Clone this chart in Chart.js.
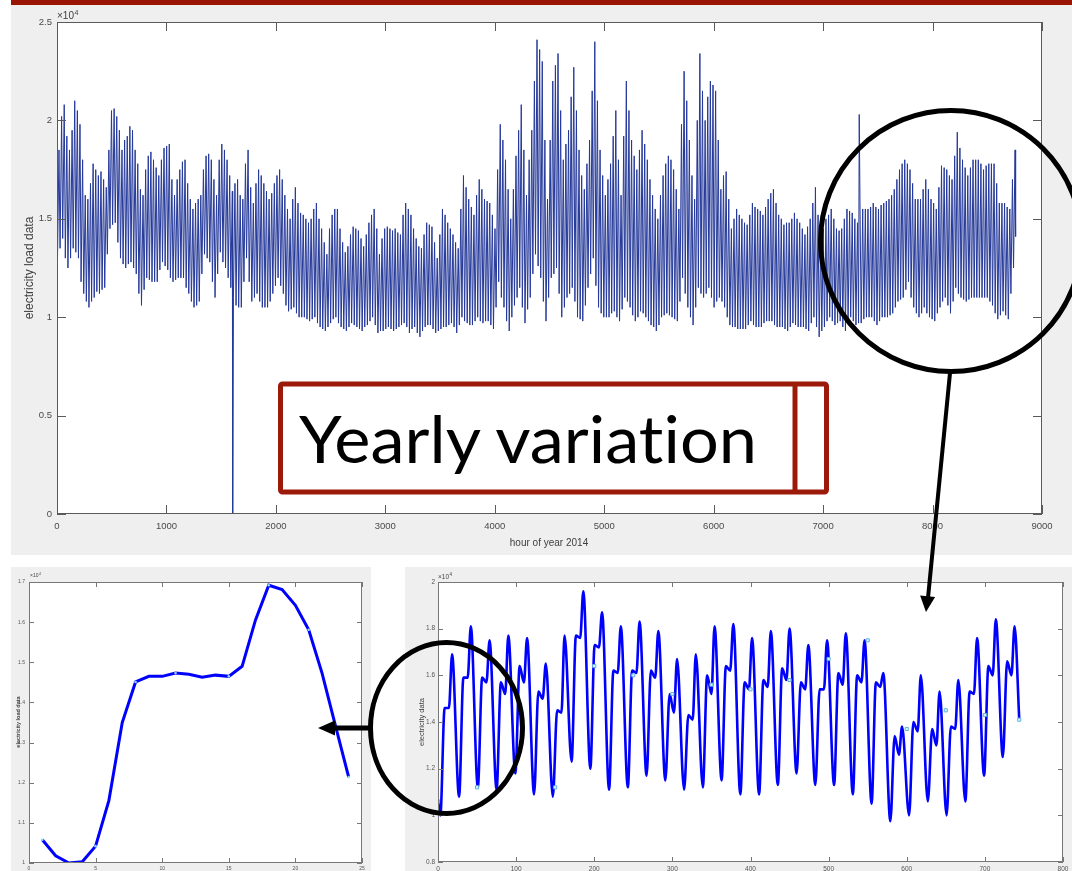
<!DOCTYPE html>
<html>
<head>
<meta charset="utf-8">
<script src="https://cdn.jsdelivr.net/npm/chart.js@4.4.1/dist/chart.umd.min.js"></script>
<style>
  html, body { margin: 0; padding: 0; background: #fff; }
  body { width: 1072px; height: 871px; position: relative; overflow: hidden; }
  .topbar { position: absolute; left: 11px; top: 0; width: 1061px; height: 5px; background: #991500; }
  .panel { position: absolute; background: #efefef; }
  .panel canvas { display: block; }
  #overlay { position: absolute; left: 0; top: 0; pointer-events: none; }
  #overlay text { font-variant-ligatures: none; font-feature-settings: "liga" 0; }
</style>
</head>
<body>
<div class="topbar"></div>
<div class="panel" style="left:11px; top:5px; width:1061px; height:550px;"><canvas id="yearChart" width="1061" height="550"></canvas></div>
<div class="panel" style="left:11px; top:567px; width:360px; height:304px;"><canvas id="dayChart" width="360" height="304"></canvas></div>
<div class="panel" style="left:405px; top:567px; width:667px; height:304px;"><canvas id="monthChart" width="667" height="304"></canvas></div>

<svg id="overlay" width="1072" height="871" viewBox="0 0 1072 871">
  <rect x="280.5" y="384" width="546" height="108" rx="2" fill="none" stroke="#9c1a0a" stroke-width="5"/>
  <line x1="795" y1="384" x2="795" y2="492" stroke="#9c1a0a" stroke-width="5"/>
  <text x="299" y="463" font-family="Lato, 'Open Sans', sans-serif" font-size="66" fill="#000"
        textLength="458" lengthAdjust="spacingAndGlyphs">Yearly variation</text>
  <circle cx="951" cy="241" r="130.5" fill="none" stroke="#000" stroke-width="5"/>
  <line x1="950" y1="373" x2="928" y2="598" stroke="#000" stroke-width="4"/>
  <polygon points="926,612 935.1,596.9 920.1,595.4" fill="#000"/>
  <ellipse cx="446.5" cy="728" rx="76" ry="85.5" fill="none" stroke="#000" stroke-width="5"/>
  <line x1="371" y1="728" x2="332" y2="728" stroke="#000" stroke-width="5"/>
  <polygon points="318,728 335,720.5 335,735.5" fill="#000"/>
</svg>

<script>
// 2014 load, units of 10^4: daily evening high and night low, one value per day
const yearDailyHigh = [
  1.85, 2.02, 2.08, 1.92, 1.85, 1.95, 2.10, 2.05, 1.98, 1.80, 1.62, 1.60, 1.68, 1.78, 1.75, 1.72, 1.74, 1.70, 1.66, 1.85,
  2.05, 2.06, 2.02, 1.95, 1.85, 1.90, 1.92, 1.97, 1.95, 1.85, 1.78, 1.65, 1.62, 1.75, 1.82, 1.84, 1.80, 1.76, 1.72, 1.80,
  1.86, 1.87, 1.88, 1.70, 1.62, 1.70, 1.75, 1.79, 1.80, 1.68, 1.60, 1.55, 1.58, 1.60, 1.62, 1.75, 1.82, 1.83, 1.80, 1.70,
  1.62, 1.80, 1.88, 1.85, 1.80, 1.72, 1.64, 1.68, 1.70, 1.62, 1.60, 1.78, 1.85, 1.66, 1.58, 1.68, 1.75, 1.72, 1.68, 1.64,
  1.60, 1.63, 1.68, 1.72, 1.75, 1.70, 1.62, 1.55, 1.50, 1.60, 1.66, 1.58, 1.53, 1.52, 1.50, 1.48, 1.50, 1.55, 1.58, 1.50,
  1.45, 1.38, 1.32, 1.45, 1.52, 1.55, 1.55, 1.45, 1.38, 1.33, 1.36, 1.42, 1.46, 1.45, 1.44, 1.40, 1.36, 1.42, 1.48, 1.52,
  1.55, 1.45, 1.32, 1.40, 1.45, 1.46, 1.45, 1.44, 1.45, 1.43, 1.42, 1.52, 1.58, 1.55, 1.52, 1.45, 1.40, 1.36, 1.35, 1.42,
  1.48, 1.47, 1.46, 1.38, 1.30, 1.42, 1.55, 1.52, 1.48, 1.45, 1.42, 1.38, 1.35, 1.55, 1.72, 1.66, 1.60, 1.56, 1.52, 1.62,
  1.70, 1.65, 1.60, 1.59, 1.58, 1.52, 1.45, 1.75, 1.98, 1.90, 1.80, 1.65, 1.50, 1.65, 1.82, 1.95, 2.08, 1.85, 1.62, 1.80,
  1.95, 2.20, 2.41, 2.36, 2.30, 1.90, 1.60, 1.90, 2.20, 2.28, 2.34, 2.05, 1.80, 1.88, 1.95, 2.12, 2.27, 2.05, 1.85, 1.72,
  1.65, 1.78, 1.90, 2.15, 2.40, 2.10, 1.85, 1.72, 1.62, 1.70, 1.78, 1.92, 2.05, 1.80, 1.62, 1.92, 2.20, 2.05, 1.90, 1.82,
  1.75, 1.85, 1.95, 1.88, 1.80, 1.70, 1.62, 1.55, 1.50, 1.62, 1.72, 1.78, 1.82, 1.80, 1.75, 1.65, 1.55, 1.98, 2.25, 2.10,
  1.90, 1.72, 1.60, 2.00, 2.34, 2.15, 2.00, 2.12, 2.20, 2.18, 2.15, 1.90, 1.65, 1.72, 1.74, 1.60, 1.45, 1.50, 1.55, 1.52,
  1.50, 1.48, 1.47, 1.52, 1.58, 1.56, 1.55, 1.54, 1.52, 1.56, 1.60, 1.63, 1.65, 1.58, 1.52, 1.50, 1.47, 1.48, 1.48, 1.50,
  1.53, 1.50, 1.48, 1.45, 1.42, 1.46, 1.50, 1.58, 1.66, 1.52, 1.40, 1.45, 1.50, 1.52, 1.55, 1.50, 1.45, 1.44, 1.45, 1.50,
  1.55, 1.54, 1.53, 1.50, 1.48, 1.52, 1.55, 1.55, 1.55, 1.56, 1.58, 1.56, 1.55, 1.57, 1.58, 1.59, 1.60, 1.62, 1.65, 1.70,
  1.75, 1.78, 1.80, 1.78, 1.75, 1.68, 1.60, 1.60, 1.60, 1.65, 1.70, 1.65, 1.60, 1.58, 1.55, 1.66, 1.77, 1.76, 1.75, 1.72,
  1.70, 1.82, 1.94, 1.86, 1.80, 1.76, 1.72, 1.76, 1.80, 1.80, 1.80, 1.78, 1.75, 1.77, 1.78, 1.78, 1.78, 1.68, 1.58, 1.58,
  1.58, 1.56, 1.55, 1.70, 1.85
];
const yearDailyLow = [
  1.27, 1.35, 1.40, 1.30, 1.25, 1.30, 1.35, 1.33, 1.30, 1.18, 1.12, 1.08, 1.05, 1.08, 1.10, 1.13, 1.12, 1.14, 1.15, 1.32,
  1.45, 1.47, 1.48, 1.38, 1.30, 1.27, 1.25, 1.27, 1.28, 1.25, 1.22, 1.12, 1.06, 1.14, 1.20, 1.19, 1.18, 1.18, 1.18, 1.24,
  1.28, 1.26, 1.24, 1.20, 1.18, 1.19, 1.20, 1.20, 1.20, 1.15, 1.12, 1.08, 1.05, 1.06, 1.08, 1.22, 1.32, 1.30, 1.28, 1.18,
  1.10, 1.22, 1.33, 1.28, 1.25, 1.20, 1.15, 1.10, 1.06, 1.05, 1.05, 1.18, 1.30, 1.18, 1.08, 1.10, 1.12, 1.08, 1.05, 1.05,
  1.05, 1.08, 1.12, 1.16, 1.20, 1.16, 1.12, 1.06, 1.03, 1.04, 1.05, 1.02, 1.00, 1.00, 1.00, 0.99, 0.98, 0.99, 1.00, 0.97,
  0.95, 0.94, 0.93, 0.95, 0.97, 0.99, 1.00, 0.97, 0.95, 0.94, 0.93, 0.95, 0.97, 0.96, 0.95, 0.94, 0.93, 0.95, 0.96, 0.98,
  1.00, 0.96, 0.92, 0.93, 0.93, 0.94, 0.95, 0.94, 0.93, 0.94, 0.95, 0.96, 0.97, 0.95, 0.92, 0.94, 0.95, 0.92, 0.90, 0.93,
  0.95, 0.96, 0.96, 0.94, 0.92, 0.93, 0.94, 0.95, 0.95, 0.96, 0.97, 0.95, 0.92, 0.96, 1.00, 0.98, 0.97, 0.96, 0.96, 0.98,
  1.00, 0.98, 0.97, 0.98, 0.98, 0.96, 0.94, 1.05, 1.18, 1.10, 1.05, 0.98, 0.93, 1.00, 1.06, 1.10, 1.15, 1.05, 0.97, 1.04,
  1.10, 1.22, 1.32, 1.26, 1.20, 1.08, 0.98, 1.10, 1.20, 1.22, 1.25, 1.12, 1.00, 1.05, 1.10, 1.12, 1.15, 1.08, 1.00, 0.99,
  0.98, 1.06, 1.15, 1.22, 1.30, 1.16, 1.05, 1.02, 1.00, 1.00, 1.00, 1.02, 1.03, 1.00, 0.98, 1.04, 1.10, 1.08, 1.05, 1.01,
  0.98, 1.00, 1.03, 1.02, 1.00, 0.98, 0.96, 0.95, 0.93, 0.96, 1.00, 1.01, 1.02, 1.01, 1.00, 0.99, 0.98, 1.08, 1.20, 1.12,
  1.05, 1.00, 0.96, 1.05, 1.15, 1.12, 1.10, 1.12, 1.15, 1.10, 1.05, 1.08, 1.10, 1.08, 1.05, 1.00, 0.96, 0.95, 0.95, 0.94,
  0.94, 0.94, 0.94, 0.96, 0.98, 0.96, 0.95, 0.95, 0.95, 0.97, 0.98, 0.98, 0.98, 0.96, 0.95, 0.95, 0.95, 0.94, 0.93, 0.95,
  0.97, 0.96, 0.95, 0.95, 0.95, 0.94, 0.93, 0.97, 1.00, 0.95, 0.90, 0.93, 0.95, 0.98, 1.00, 0.98, 0.96, 0.97, 0.98, 0.95,
  0.93, 0.97, 1.00, 0.98, 0.96, 0.97, 0.97, 0.99, 1.00, 1.00, 1.00, 0.98, 0.96, 0.98, 1.00, 1.00, 1.00, 1.01, 1.02, 1.05,
  1.08, 1.09, 1.10, 1.14, 1.18, 1.10, 1.05, 1.02, 1.00, 1.02, 1.05, 1.02, 1.00, 0.99, 0.98, 1.02, 1.05, 1.08, 1.10, 1.06,
  1.02, 1.08, 1.15, 1.12, 1.10, 1.09, 1.08, 1.09, 1.10, 1.10, 1.10, 1.10, 1.10, 1.10, 1.10, 1.08, 1.06, 1.02, 0.99, 1.01,
  1.03, 1.01, 0.99, 1.12, 1.25
];
const yearLowHour = 4;    // hour of day of the night low
const yearHighHour = 18;  // hour of day of the evening high
// single-hour events: the outage and the one-off spike
const yearEventHours = [1605, 7330];
const yearEventLoads = [0, 2.03];
const yearLastHour = 8759;
const yearLastLoad = 1.41;

// one day (hours 1..24) of the first December day
const dayHours = [1, 2, 3, 4, 5, 6, 7, 8, 9, 10, 11, 12, 13, 14, 15, 16, 17, 18, 19, 20, 21, 22, 23, 24];
const dayLoad = [1.058, 1.018, 1.000, 1.003, 1.042, 1.156, 1.350, 1.451, 1.465, 1.465, 1.473, 1.470,
                 1.463, 1.468, 1.465, 1.490, 1.605, 1.692, 1.681, 1.642, 1.581, 1.473, 1.343, 1.214];
const dayMarkedHours = [1, 5, 8, 11, 15, 18, 21, 24];

// one month, per day: night trough, morning plateau, afternoon dip, evening peak
const monthFeatureHours = [3, 8.5, 14, 18];
const monthTrough = [1.00, 1.08, 1.12, 1.11, 1.18, 1.09, 1.08, 1.23, 1.20, 1.11, 1.12, 1.17, 1.15, 1.11, 1.12, 1.15,
                     1.09, 1.09, 1.13, 1.18, 1.13, 1.13, 1.09, 1.05, 0.975, 1.00, 1.06, 1.00, 1.06, 1.17, 1.25];
const monthPlateau = [1.46, 1.59, 1.59, 1.57, 1.64, 1.53, 1.45, 1.77, 1.73, 1.62, 1.62, 1.62, 1.52, 1.43, 1.60, 1.64,
                      1.57, 1.58, 1.63, 1.57, 1.54, 1.61, 1.60, 1.57, 1.34, 1.40, 1.37, 1.38, 1.53, 1.64, 1.66];
const monthDip = [1.46, 1.59, 1.57, 1.52, 1.57, 1.50, 1.44, 1.76, 1.72, 1.61, 1.61, 1.59, 1.44, 1.41, 1.52, 1.62,
                  1.54, 1.55, 1.58, 1.54, 1.54, 1.56, 1.57, 1.55, 1.26, 1.36, 1.30, 1.37, 1.52, 1.60, 1.60];
const monthPeak = [1.69, 1.81, 1.75, 1.77, 1.76, 1.65, 1.77, 1.96, 1.87, 1.81, 1.83, 1.79, 1.67, 1.69, 1.81, 1.82,
                   1.76, 1.79, 1.80, 1.73, 1.75, 1.78, 1.75, 1.61, 1.38, 1.60, 1.53, 1.58, 1.76, 1.84, 1.81];
const monthFirstLoad = 1.06;
const monthLastHour = 744;
const monthLastLoad = 1.41;
const monthMarkerHours = [0, 50, 150, 200, 250, 300, 350, 400, 450, 500, 550, 600, 650, 700, 744];
const monthMarkerLoads = [1.06, 1.12, 1.12, 1.64, 1.60, 1.52, 1.56, 1.54, 1.58, 1.67, 1.75, 1.37, 1.45, 1.43, 1.41];

// ---- build point lists ----
const yearSeries = [];
yearDailyHigh.forEach((high, d) => {
  yearSeries.push({ x: d * 24 + yearLowHour, y: yearDailyLow[d] });
  yearSeries.push({ x: d * 24 + yearHighHour, y: high });
});
yearEventHours.forEach((h, i) => yearSeries.push({ x: h, y: yearEventLoads[i] }));
yearSeries.push({ x: yearLastHour, y: yearLastLoad });
yearSeries.sort((a, b) => a.x - b.x);

const daySeries = dayHours.map((h, i) => ({ x: h, y: dayLoad[i] }));

const monthSeries = [{ x: 0, y: monthFirstLoad }];
monthTrough.forEach((t, d) => {
  const vals = [t, monthPlateau[d], monthDip[d], monthPeak[d]];
  monthFeatureHours.forEach((h, k) => monthSeries.push({ x: d * 24 + h, y: vals[k] }));
});
monthSeries.push({ x: monthLastHour, y: monthLastLoad });
const monthMarkers = monthMarkerHours.map((h, i) => ({ x: h, y: monthMarkerLoads[i] }));

// MATLAB-style frame: white axes box, inward ticks on all four sides, titles and exponent
const matlabFrame = {
  id: 'matlabFrame',
  beforeDraw(chart) {
    const { ctx, chartArea: a } = chart;
    ctx.save();
    ctx.fillStyle = '#ffffff';
    ctx.fillRect(a.left, a.top, a.width, a.height);
    ctx.restore();
  },
  afterDatasetsDraw(chart, args, opts) {
    const { ctx, chartArea: a, scales } = chart;
    const len = opts.tickLength;
    ctx.save();
    ctx.strokeStyle = opts.color;
    ctx.lineWidth = 1;
    ctx.strokeRect(Math.round(a.left) + 0.5, Math.round(a.top) + 0.5, Math.round(a.width) - 1, Math.round(a.height) - 1);
    ctx.beginPath();
    scales.x.ticks.forEach(t => {
      const px = Math.round(scales.x.getPixelForValue(t.value)) + 0.5;
      ctx.moveTo(px, a.bottom); ctx.lineTo(px, a.bottom - len);
      ctx.moveTo(px, a.top); ctx.lineTo(px, a.top + len);
    });
    scales.y.ticks.forEach(t => {
      const py = Math.round(scales.y.getPixelForValue(t.value)) + 0.5;
      ctx.moveTo(a.left, py); ctx.lineTo(a.left + len, py);
      ctx.moveTo(a.right, py); ctx.lineTo(a.right - len, py);
    });
    ctx.stroke();

    const family = "'Liberation Sans', Arial, sans-serif";
    ctx.fillStyle = opts.textColor;
    ctx.textAlign = 'center';
    ctx.textBaseline = 'middle';
    if (opts.xTitle) {
      ctx.font = opts.xTitle.size + 'px ' + family;
      ctx.fillText(opts.xTitle.text, opts.xTitle.x, opts.xTitle.y);
    }
    if (opts.yTitle) {
      ctx.save();
      ctx.translate(opts.yTitle.x, opts.yTitle.y);
      ctx.rotate(-Math.PI / 2);
      ctx.font = (opts.yTitle.weight || '') + ' ' + opts.yTitle.size + 'px ' + family;
      ctx.fillText(opts.yTitle.text, 0, 0);
      ctx.restore();
    }
    if (opts.exponent) {
      const e = opts.exponent;
      ctx.textAlign = 'left';
      ctx.textBaseline = 'alphabetic';
      ctx.font = e.size + 'px ' + family;
      ctx.fillText('\u00d710', e.x, e.y);
      const w = ctx.measureText('\u00d710').width;
      ctx.font = (e.size * 0.7) + 'px ' + family;
      ctx.fillText('4', e.x + w + 0.5, e.y - e.size * 0.45);
    }
    ctx.restore();
  }
};

const numLabel = v => String(+Number(v).toFixed(1));
const plainLabel = v => String(v);

function axes(cfg) {
  const tickFont = { family: "'Liberation Sans', Arial, sans-serif", size: cfg.tickSize };
  return {
    x: {
      type: 'linear', min: cfg.xMin, max: cfg.xMax,
      grid: { display: false, drawTicks: false }, border: { display: false },
      ticks: { stepSize: cfg.xStep, autoSkip: false, maxRotation: 0, color: cfg.tickColor,
               font: tickFont, padding: cfg.xPad, callback: plainLabel },
      afterFit: s => { s.height = cfg.xHeight; }
    },
    y: {
      type: 'linear', min: cfg.yMin, max: cfg.yMax,
      grid: { display: false, drawTicks: false }, border: { display: false },
      ticks: { stepSize: cfg.yStep, autoSkip: false, color: cfg.tickColor,
               font: tickFont, padding: cfg.yPad, callback: numLabel },
      afterFit: s => { s.width = cfg.yWidth; }
    }
  };
}

// full year
new Chart(document.getElementById('yearChart'), {
  type: 'line',
  data: {
    datasets: [{
      data: yearSeries,
      borderColor: '#25399a',
      borderWidth: 1,
      pointRadius: 0,
      tension: 0
    }]
  },
  options: {
    responsive: false,
    animation: false,
    layout: { padding: { top: 17, right: 30, left: 0, bottom: 0 } },
    scales: axes({ xMin: 0, xMax: 9000, xStep: 1000, yMin: 0, yMax: 2.5, yStep: 0.5,
                   tickSize: 9.5, tickColor: '#4a4a4a', xPad: 7, yPad: 5, xHeight: 41, yWidth: 46 }),
    plugins: {
      legend: { display: false },
      tooltip: { enabled: false },
      matlabFrame: {
        color: '#5a5a5a', textColor: '#404040', tickLength: 9,
        exponent: { x: 46, y: 14, size: 10 },
        xTitle: { text: 'hour of year 2014', x: 538, y: 538, size: 10 },
        yTitle: { text: 'electricity load data', x: 19, y: 263, size: 12 }
      }
    }
  },
  plugins: [matlabFrame]
});

// single day
new Chart(document.getElementById('dayChart'), {
  type: 'line',
  data: {
    datasets: [{
      data: daySeries,
      borderColor: '#0000ff',
      borderWidth: 3,
      tension: 0,
      pointRadius: ctx => dayMarkedHours.includes(dayHours[ctx.dataIndex]) ? 1.3 : 0,
      pointBackgroundColor: '#8fd6ff',
      pointBorderWidth: 0
    }]
  },
  options: {
    responsive: false,
    animation: false,
    layout: { padding: { top: 15, right: 9, left: 0, bottom: 0 } },
    scales: axes({ xMin: 0, xMax: 25, xStep: 5, yMin: 1, yMax: 1.7, yStep: 0.1,
                   tickSize: 5, tickColor: '#555', xPad: 3, yPad: 4, xHeight: 8, yWidth: 18 }),
    plugins: {
      legend: { display: false },
      tooltip: { enabled: false },
      matlabFrame: {
        color: '#777', textColor: '#444', tickLength: 5,
        exponent: { x: 19, y: 10, size: 5 },
        yTitle: { text: 'electricity load data', x: 7, y: 155, size: 5.5, weight: 'bold' }
      }
    }
  },
  plugins: [matlabFrame]
});

// one month
new Chart(document.getElementById('monthChart'), {
  type: 'line',
  data: {
    datasets: [{
      data: monthMarkers,
      showLine: false,
      pointStyle: 'rect',
      pointRadius: 2.2,
      pointBorderWidth: 1,
      pointBorderColor: '#5fb4de',
      pointBackgroundColor: '#dff4ff'
    }, {
      data: monthSeries,
      borderColor: '#0000ff',
      borderWidth: 2.6,
      pointRadius: 0,
      cubicInterpolationMode: 'monotone'
    }]
  },
  options: {
    responsive: false,
    animation: false,
    layout: { padding: { top: 15, right: 9, left: 0, bottom: 0 } },
    scales: axes({ xMin: 0, xMax: 800, xStep: 100, yMin: 0.8, yMax: 2, yStep: 0.2,
                   tickSize: 6.5, tickColor: '#555', xPad: 3, yPad: 3, xHeight: 9, yWidth: 33 }),
    plugins: {
      legend: { display: false },
      tooltip: { enabled: false },
      matlabFrame: {
        color: '#777', textColor: '#444', tickLength: 5,
        exponent: { x: 33, y: 12, size: 6.5 },
        yTitle: { text: 'electricity data', x: 17, y: 155, size: 7.5 }
      }
    }
  },
  plugins: [matlabFrame]
});
</script>
</body>
</html>
